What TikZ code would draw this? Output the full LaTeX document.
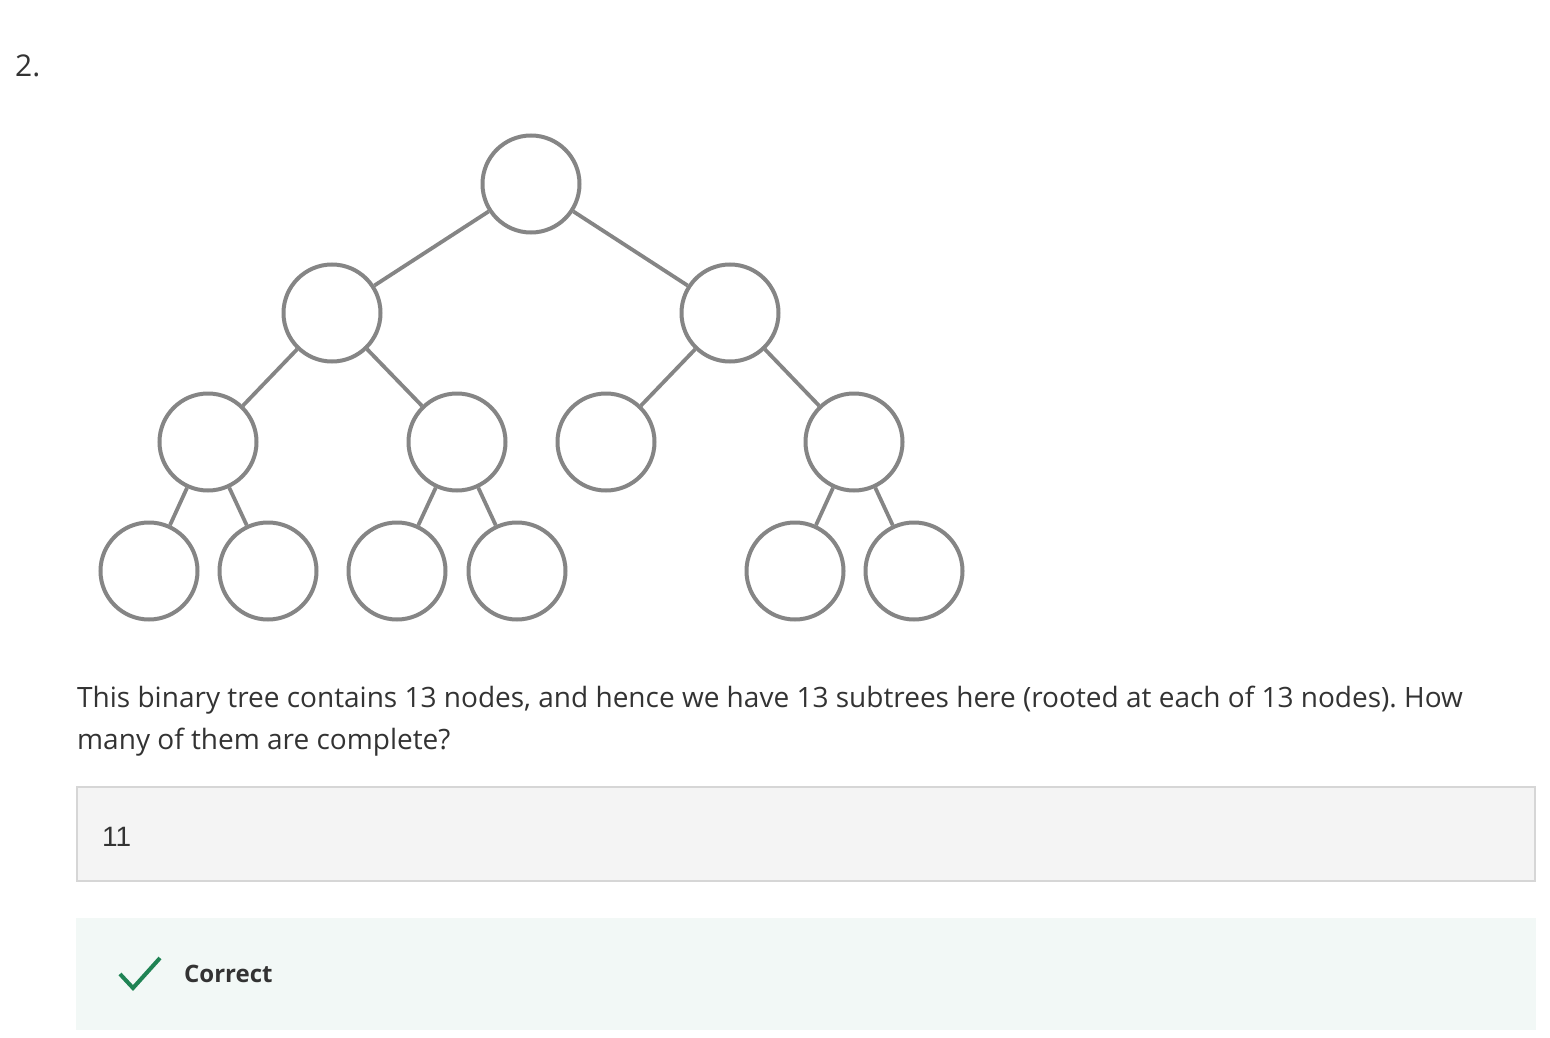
\documentclass[tikz,border=0pt]{standalone}
\usepackage{fontspec}
\setmainfont{Open Sans}
\newfontfamily\arialfont{Liberation Sans}
\definecolor{treegray}{HTML}{858585}
\definecolor{txt}{HTML}{333333}
\definecolor{boxfill}{HTML}{F4F4F4}
\definecolor{boxline}{HTML}{D6D6D6}
\definecolor{okfill}{HTML}{F2F8F6}
\definecolor{okgreen}{HTML}{1F8354}
\begin{document}
\frenchspacing
\begin{tikzpicture}[x=1pt,y=-1pt,
  tnode/.style={circle,draw=treegray,line width=4pt,minimum size=97pt,inner sep=0pt,fill=white},
  tedge/.style={draw=treegray,line width=3.8pt},
  body/.style={anchor=base west,inner sep=0pt,text=txt,font=\fontsize{28}{34}\selectfont}]
\useasboundingbox[fill=white] (0,0) rectangle (1550,1038);
\node[anchor=base west,inner sep=0pt,text=txt,font=\fontsize{30}{36}\selectfont] (num) at (15,77) {2.};
% tree
\node[tnode] (r) at (531,184) {};
\node[tnode] (a) at (332,313) {};
\node[tnode] (b) at (730,313) {};
\node[tnode] (a1) at (208,442) {};
\node[tnode] (a2) at (457,442) {};
\node[tnode] (b1) at (606,442) {};
\node[tnode] (b2) at (854,442) {};
\node[tnode] (l1) at (149,571) {};
\node[tnode] (l2) at (268,571) {};
\node[tnode] (l3) at (397,571) {};
\node[tnode] (l4) at (517,571) {};
\node[tnode] (l5) at (795,571) {};
\node[tnode] (l6) at (914,571) {};
\draw[tedge] (r) -- (a);
\draw[tedge] (r) -- (b);
\draw[tedge] (a) -- (a1);
\draw[tedge] (a) -- (a2);
\draw[tedge] (b) -- (b1);
\draw[tedge] (b) -- (b2);
\draw[tedge] (a1) -- (l1);
\draw[tedge] (a1) -- (l2);
\draw[tedge] (a2) -- (l3);
\draw[tedge] (a2) -- (l4);
\draw[tedge] (b2) -- (l5);
\draw[tedge] (b2) -- (l6);
% question
\node[body] (q1) at (77,707) {This binary tree contains 13 nodes, and hence we have 13 subtrees here (rooted at each of 13 nodes). How};
\node[body] (q2) at (77,749) {many of them are complete?};
% answer box
\draw[fill=boxfill,draw=boxline,line width=2pt] (77,787) rectangle (1535,881);
\node[anchor=base west,inner sep=0pt,text=txt,font=\arialfont\fontsize{28}{32}\selectfont] (ans) at (102,846) {11};
% correct box
\fill[okfill] (76,918) rectangle (1536,1030);
\coordinate (c1) at (120,974);
\coordinate (c2) at (133,988);
\coordinate (c3) at (160,958);
\draw[okgreen,line width=4pt] (c1) -- (c2) -- (c3);
\node[anchor=base west,inner sep=0pt,text=txt,font=\bfseries\fontsize{24}{30}\selectfont] (ok) at (184,982) {Correct};
\end{tikzpicture}
\end{document}
